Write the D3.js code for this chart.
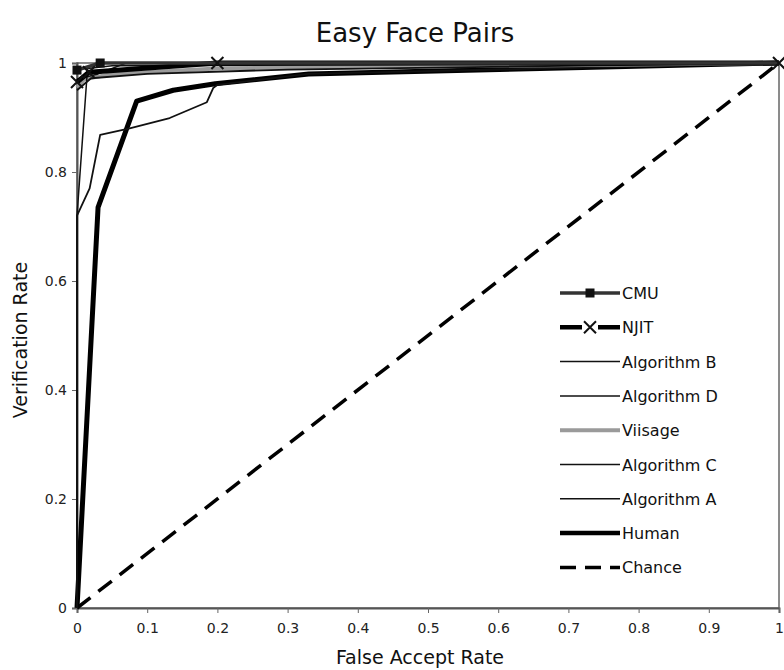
<!doctype html>
<html>
<head>
<meta charset="UTF-8">
<title>Easy Face Pairs</title>
<script src="https://cdn.jsdelivr.net/npm/d3@7/dist/d3.min.js"></script>
<style>
    body { margin: 0; background: #fff; }
    text { font-family: "DejaVu Sans", Verdana, sans-serif; fill: #111; }
    .tick text { font-size: 14px; fill: #222; }
</style>
</head>
<body>
<script>
    // values: [false accept rate, verification rate]
    var cmu = [[0, 0.987], [0.033, 1], [1, 1]];
    var njit = [[0, 0.965], [0.017, 0.983], [0.2, 1], [1, 1]];
    var algB = [[0, 0], [0, 0.72], [0.015, 0.99], [0.05, 0.995], [1, 1]];
    var algD = [[0, 0], [0, 0.72], [0.018, 0.77], [0.033, 0.868], [0.075, 0.88], [0.132, 0.899],
                [0.185, 0.928], [0.194, 0.954], [0.2, 0.96], [0.33, 0.98], [1, 1]];
    var viisage = [[0, 0.955], [0.01, 0.97], [0.05, 0.98], [0.2, 0.99], [0.6, 0.995], [1, 1]];
    var algC = [[0, 0.95], [0.02, 0.972], [0.1, 0.98], [0.3, 0.988], [1, 1]];
    var algA = [[0, 0.97], [0.03, 0.98], [0.07, 1], [1, 1]];
    var human = [[0, 0], [0.03, 0.735], [0.085, 0.93], [0.137, 0.95], [0.197, 0.962], [0.33, 0.98], [1, 1]];
    var chance = [[0, 0], [1, 1]];

    var seriesNames = ["CMU", "NJIT", "Algorithm B", "Algorithm D", "Viisage", "Algorithm C", "Algorithm A", "Human", "Chance"];
    var seriesData = [cmu, njit, algB, algD, viisage, algC, algA, human, chance];
    var xTicks = [0, 0.1, 0.2, 0.3, 0.4, 0.5, 0.6, 0.7, 0.8, 0.9, 1];
    var yTicks = [0, 0.2, 0.4, 0.6, 0.8, 1];

    // drawing styles per series (lw = width of the legend sample)
    var styles = {
        "CMU":         { stroke: "#333", width: 3.5, lw: 3.5, marker: "square" },
        "NJIT":        { stroke: "#000", width: 5, lw: 4.5, marker: "x" },
        "Algorithm B": { stroke: "#111", width: 1.5, lw: 1.5 },
        "Algorithm D": { stroke: "#111", width: 1.8, lw: 1.5 },
        "Viisage":     { stroke: "#9a9a9a", width: 4, lw: 4 },
        "Algorithm C": { stroke: "#111", width: 1.8, lw: 1.5 },
        "Algorithm A": { stroke: "#111", width: 1.5, lw: 1.5 },
        "Human":       { stroke: "#000", width: 5, lw: 4.5 },
        "Chance":      { stroke: "#000", width: 3.5, lw: 3.5, dash: "17,10" }
    };

    var margin = { left: 77, right: 5, top: 63, bottom: 62 };
    var width = 784 - margin.left - margin.right,
        height = 670 - margin.top - margin.bottom;

    var svg = d3.select("body").append("svg")
        .attr("width", 784)
        .attr("height", 670);

    var g = svg.append("g")
        .attr("transform", "translate(" + margin.left + "," + margin.top + ")");

    var x = d3.scaleLinear().domain([0, 1]).range([0, width]);
    var y = d3.scaleLinear().domain([0, 1]).range([height, 0]);

    // plot frame
    g.append("rect")
        .attr("x", 0).attr("y", 0)
        .attr("width", width).attr("height", height)
        .style("fill", "none")
        .style("stroke", "#666")
        .style("stroke-width", 1.5);

    var xAxis = g.append("g")
        .attr("transform", "translate(0," + height + ")")
        .call(d3.axisBottom(x).tickValues(xTicks).tickSize(5).tickPadding(10)
              .tickFormat(function (d) { return d3.format("")(d); }));

    var yAxis = g.append("g")
        .call(d3.axisLeft(y).tickValues(yTicks).tickSize(5).tickPadding(5)
              .tickFormat(function (d) { return d3.format("")(d); }));

    [xAxis, yAxis].forEach(function (a) {
        a.select(".domain").style("stroke", "#555").style("stroke-width", 2);
        a.selectAll(".tick line").style("stroke", "#666");
    });

    var line = d3.line()
        .x(function (d) { return x(d[0]); })
        .y(function (d) { return y(d[1]); });

    // draw back to front so the thin ones stay visible
    var order = ["Chance", "Human", "Algorithm D", "Viisage", "Algorithm C", "Algorithm A", "Algorithm B", "NJIT", "CMU"];
    order.forEach(function (name) {
        var s = styles[name];
        var data = seriesData[seriesNames.indexOf(name)];
        g.append("path")
            .datum(data)
            .attr("d", line)
            .style("fill", "none")
            .style("stroke", s.stroke)
            .style("stroke-width", s.width)
            .style("stroke-linejoin", "round")
            .style("stroke-dasharray", s.dash || null);
    });

    function drawMarker(sel, type, cx, cy) {
        if (type === "square") {
            sel.append("rect")
                .attr("x", cx - 4.5).attr("y", cy - 4.5)
                .attr("width", 9).attr("height", 9)
                .style("fill", "#111");
        } else if (type === "x") {
            sel.append("path")
                .attr("d", "M" + (cx - 6) + "," + (cy - 6) + "L" + (cx + 6) + "," + (cy + 6) +
                           "M" + (cx - 6) + "," + (cy + 6) + "L" + (cx + 6) + "," + (cy - 6))
                .style("stroke", "#111")
                .style("stroke-width", 2);
        }
    }

    cmu.forEach(function (d, i) {
        if (i < cmu.length - 1) drawMarker(g, "square", x(d[0]), y(d[1]));
    });
    njit.forEach(function (d) {
        drawMarker(g, "x", x(d[0]), y(d[1]));
    });

    // legend
    var legend = svg.append("g").attr("transform", "translate(560,293)");
    seriesNames.forEach(function (name, i) {
        var s = styles[name];
        var row = legend.append("g").attr("transform", "translate(0," + (i * 34.3) + ")");
        row.append("line")
            .attr("x1", 0).attr("x2", 60)
            .attr("y1", 0).attr("y2", 0)
            .style("stroke", s.stroke)
            .style("stroke-width", s.lw)
            .style("stroke-dasharray", s.dash ? "16,9" : null);
        if (s.marker) {
            if (s.marker === "x") {
                row.append("rect").attr("x", 22).attr("y", -7).attr("width", 16).attr("height", 14).style("fill", "#fff");
            }
            drawMarker(row, s.marker, 30, 0);
        }
        row.append("text")
            .attr("x", 62)
            .attr("y", 6)
            .style("font-size", "16px")
            .text(name);
    });

    // titles
    svg.append("text")
        .attr("x", 415).attr("y", 42)
        .attr("text-anchor", "middle")
        .style("font-size", "26px")
        .text("Easy Face Pairs");

    svg.append("text")
        .attr("x", 420).attr("y", 664)
        .attr("text-anchor", "middle")
        .style("font-size", "19px")
        .text("False Accept Rate");

    svg.append("text")
        .attr("transform", "translate(27,340) rotate(-90)")
        .attr("text-anchor", "middle")
        .style("font-size", "19px")
        .text("Verification Rate");
</script>
</body>
</html>
